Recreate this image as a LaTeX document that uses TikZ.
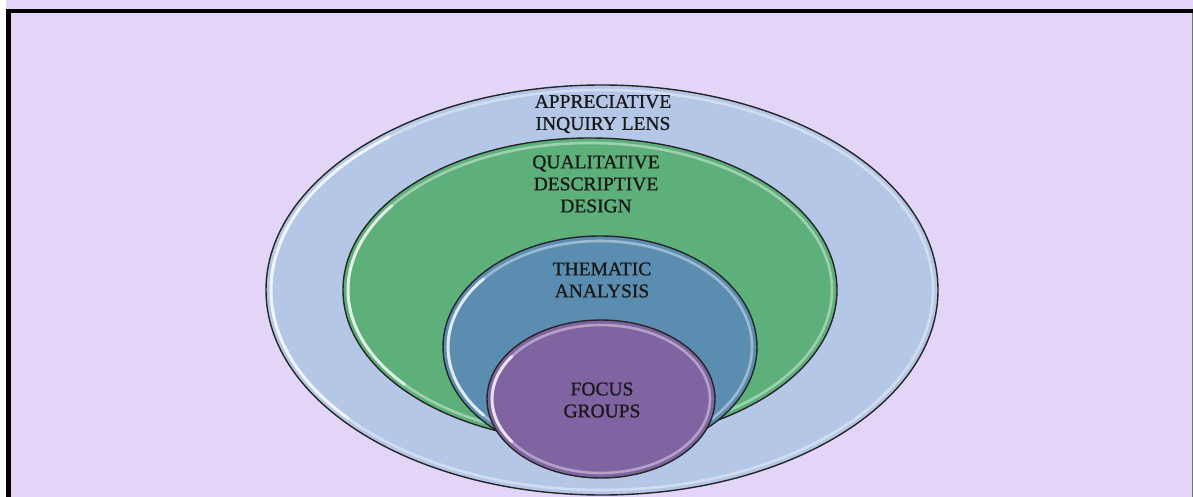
\documentclass[tikz,border=0pt]{standalone}
\usepackage{fontspec}
\setmainfont{Liberation Serif}[FakeBold=0.6]
\newfontfamily\lblfont{Liberation Serif}[FakeBold=0.9]
\begin{document}
\begin{tikzpicture}[x=1pt,y=-1pt,
  ring/.style={draw=black!85,line width=1.4pt},
  gloss/.style={draw=white,line width=2.6pt,opacity=0.4},
  shine/.style={draw=white,line width=3pt,opacity=0.7,line cap=round},
  lbl/.style={align=center,font=\lblfont\fontsize{19.5}{22}\selectfont,text=black!90,inner sep=0pt}]
\definecolor{bglav}{HTML}{E3D5F7}
\definecolor{outerblue}{HTML}{B4C7E7}
\definecolor{qgreen}{HTML}{5EB07B}
\definecolor{tblue}{HTML}{5B8DB0}
\definecolor{fpurple}{HTML}{8064A2}
\useasboundingbox (0,0) rectangle (1193,497);
% background and frame
\fill[bglav] (0,0) rectangle (1193,497);
\fill[white] (0,0) rectangle (6,497);
\draw[black,line width=4.5pt] (8.5,497) -- (8.5,11) -- (1193,11);
\draw[black!55,line width=0.8pt] (1192.4,13) -- (1192.4,497);
% outer ellipse
\fill[outerblue] (602,290) ellipse [x radius=336,y radius=205];
\draw[gloss] (602,290) ellipse [x radius=331,y radius=200];
\draw[shine] (602,290) ++(140:331 and 200) arc[start angle=140,end angle=230,x radius=331,y radius=200];
\draw[ring] (602,290) ellipse [x radius=336,y radius=205];
% green ellipse
\fill[qgreen] (590,290) ellipse [x radius=247,y radius=152];
\draw[gloss] (590,290) ellipse [x radius=242,y radius=147];
\draw[shine] (590,290) ++(140:242 and 147) arc[start angle=140,end angle=215,x radius=242,y radius=147];
\draw[ring] (590,290) ellipse [x radius=247,y radius=152];
% thematic ellipse
\fill[tblue] (600,347) ellipse [x radius=157,y radius=111];
\draw[gloss] (600,347) ellipse [x radius=152,y radius=106];
\draw[shine] (600,347) ++(140:152 and 106) arc[start angle=140,end angle=220,x radius=152,y radius=106];
\draw[ring] (600,347) ellipse [x radius=157,y radius=111];
% focus ellipse
\fill[fpurple] (601,399) ellipse [x radius=114,y radius=79];
\draw[gloss] (601,399) ellipse [x radius=109,y radius=74];
\draw[shine] (601,399) ++(145:109 and 74) arc[start angle=145,end angle=215,x radius=109,y radius=74];
\draw[ring] (601,399) ellipse [x radius=114,y radius=79];
% labels
\node[lbl] (ai) at (603,114) {APPRECIATIVE\\INQUIRY LENS};
\node[lbl] (qd) at (596,184) {QUALITATIVE\\DESCRIPTIVE\\DESIGN};
\node[lbl] (ta) at (602,280) {THEMATIC\\ANALYSIS};
\node[lbl] (fg) at (602,400) {FOCUS\\GROUPS};
\end{tikzpicture}
\end{document}
